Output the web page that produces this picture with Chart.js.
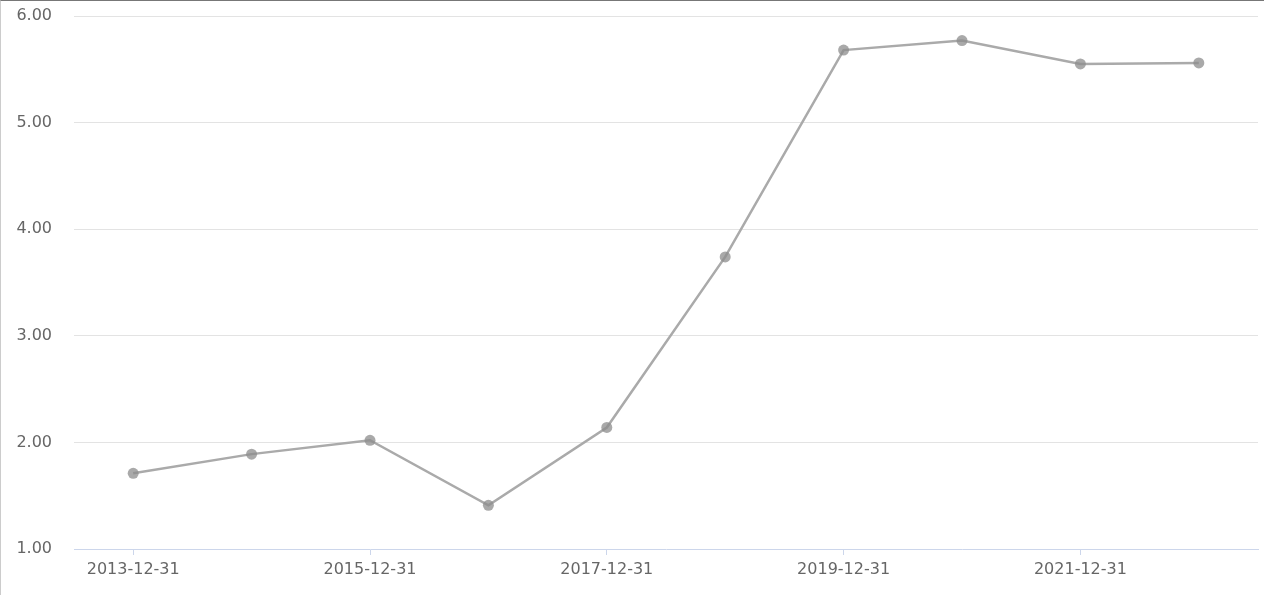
<!DOCTYPE html>
<html>
<head>
<meta charset="utf-8">
<script src="https://cdn.jsdelivr.net/npm/chart.js@4/dist/chart.umd.min.js"></script>
<style>
    html, body { margin: 0; padding: 0; background: #fff; }
    #wrap {
        width: 1263px;
        height: 594px;
        border-top: 1px solid #777;
        border-left: 1px solid #ccc;
        position: relative;
    }
</style>
</head>
<body>
<div id="wrap"><canvas id="lineChart" width="1263" height="594"></canvas></div>
<script>
// Data
const categories = ['2013-12-31', '2014-12-31', '2015-12-31', '2016-12-31', '2017-12-31',
    '2018-12-31', '2019-12-31', '2020-12-31', '2021-12-31', '2022-12-31'];
const values = [1.71, 1.89, 2.02, 1.41, 2.14, 3.74, 5.68, 5.77, 5.55, 5.56];
const yTicks = [1, 2, 3, 4, 5, 6];

const axisColor = '#ccd6eb';
const labelFont = { family: 'DejaVu Sans', size: 16 };

new Chart(document.getElementById('lineChart'), {
    type: 'line',
    data: {
        labels: categories,
        datasets: [{
            data: values,
            borderColor: '#aaaaaa',
            borderWidth: 2.5,
            backgroundColor: 'rgba(140, 140, 140, 0.75)',
            pointBackgroundColor: 'rgba(140, 140, 140, 0.75)',
            pointBorderWidth: 0,
            pointRadius: 5.5,
            tension: 0
        }]
    },
    options: {
        responsive: false,
        animation: false,
        layout: { padding: { top: 15, right: 6, left: 0, bottom: 0 } },
        plugins: {
            legend: { display: false },
            title: { display: false },
            tooltip: { enabled: false }
        },
        scales: {
            x: {
                offset: true,
                grid: {
                    drawOnChartArea: false,
                    drawTicks: true,
                    tickLength: 6,
                    offset: false,
                    color: ctx => (ctx.index % 2 === 0 ? axisColor : 'transparent')
                },
                border: { color: axisColor, width: 1 },
                ticks: {
                    autoSkip: false,
                    maxRotation: 0,
                    padding: 5,
                    color: '#666',
                    font: labelFont,
                    callback: function (val, i) {
                        return i % 2 === 0 ? this.getLabelForValue(val) : '';
                    }
                },
                afterFit: scale => {
                    scale.height = 46;
                    scale.paddingTop = 0;
                    scale.paddingBottom = 0;
                }
            },
            y: {
                min: yTicks[0],
                max: yTicks[yTicks.length - 1],
                afterBuildTicks: scale => {
                    scale.ticks = yTicks.map(v => ({ value: v }));
                },
                grid: {
                    drawTicks: false,
                    color: ctx => (ctx.tick && ctx.tick.value === yTicks[0] ? 'transparent' : '#e3e3e3')
                },
                border: { display: false },
                ticks: {
                    padding: 22,
                    color: '#666',
                    font: labelFont,
                    callback: v => Number(v).toFixed(2)
                },
                afterFit: scale => {
                    scale.width = 73;
                    scale.paddingTop = 0;
                    scale.paddingBottom = 0;
                }
            }
        }
    }
});
</script>
</body>
</html>
